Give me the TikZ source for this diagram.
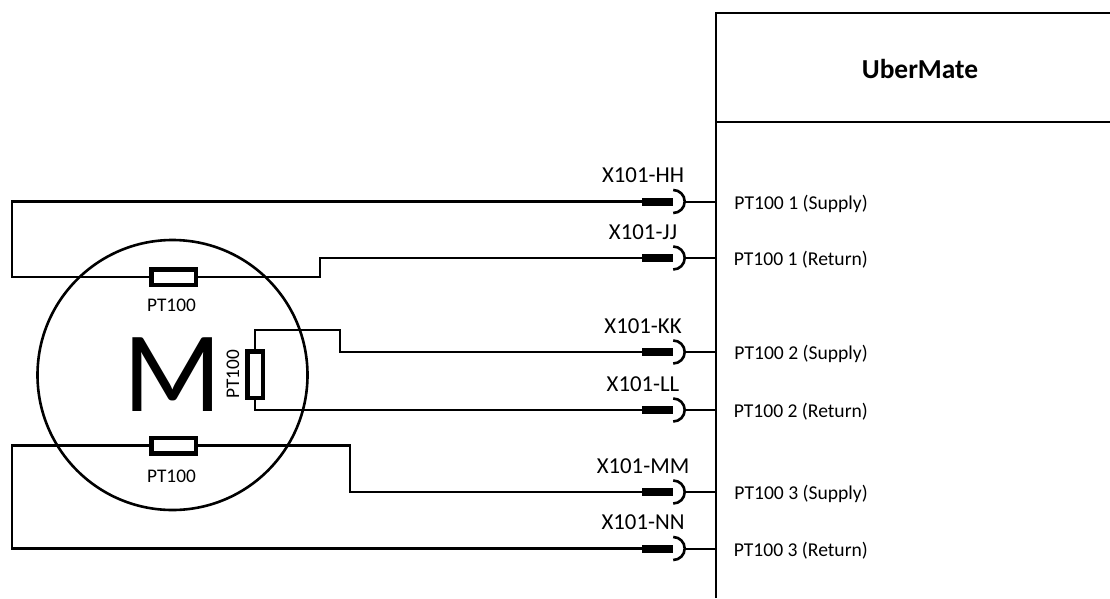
\documentclass[tikz,border=0pt]{standalone}
\usepackage{fontspec}
\setmainfont{Carlito}
\usetikzlibrary{calc}
\begin{document}
\begin{tikzpicture}[x=1pt,y=-1pt,
  wire/.style={line width=2.4pt, line join=miter},
  resbox/.style={draw, fill=white, line width=4.5pt, inner sep=0pt},
  bar/.style={fill=black, minimum width=31pt, minimum height=8pt, inner sep=0pt},
  plug/.style={line width=2.6pt},
  tail/.style={line width=2pt},
  conlabel/.style={font=\fontsize{22.8}{22.8}\selectfont, anchor=base, inner sep=0pt},
  sidelabel/.style={font=\fontsize{19.6}{19.6}\selectfont, anchor=base east, inner sep=0pt},
  reslabel/.style={font=\fontsize{19.3}{19.3}\selectfont, anchor=base, inner sep=0pt},
  boxline/.style={line width=2pt}
]
\useasboundingbox (0,0) rectangle (1110,598);

% UberMate box
\draw[boxline] (716,598) -- (716,13) -- (1110,13);
\draw[boxline] (716,122) -- (1110,122);
\node[font=\fontsize{27.4}{27.4}\selectfont\bfseries, anchor=base, inner sep=0pt] (uber) at (920,78.3) {UberMate};

% motor
\node[circle, draw, line width=2.6pt, minimum size=270pt, inner sep=0pt] (motor) at (172.5,375) {};
\node[font=\fontsize{115}{115}\selectfont, inner sep=0pt] (mlabel) at (173,375) {M};

% resistors
\node[resbox, minimum width=44.5pt, minimum height=15.5pt] (r1) at (173.5,277) {};
\node[resbox, minimum width=15.5pt, minimum height=46.5pt] (r2) at (255,374.5) {};
\node[resbox, minimum width=44.5pt, minimum height=15.5pt] (r3) at (173.5,445.5) {};
\node[reslabel] (l1) at (171.5,311.7) {PT100};
\node[reslabel, rotate=90] (l2) at (239,374) {PT100};
\node[reslabel] (l3) at (171.5,482.7) {PT100};

% connectors
\foreach \n/\yy/\lab/\side in {HH/201.5/X101-HH/PT100 1 (Supply),
                               JJ/258/X101-JJ/PT100 1 (Return),
                               KK/352/X101-KK/PT100 2 (Supply),
                               LL/410/X101-LL/PT100 2 (Return),
                               MM/492/X101-MM/PT100 3 (Supply),
                               NN/548.5/X101-NN/PT100 3 (Return)}{
  \node[bar] (c\n) at (657.5,\yy) {};
  \draw[plug] (c\n.east) ++(0,11.5) arc[start angle=90, end angle=-90, radius=11.5];
  \coordinate (t\n) at (716,\yy);
  \draw[tail] ($(c\n.east)+(11.5,0)$) -- (t\n);
  \node[conlabel] (x\n) at (643,\yy-18.8) {\lab};
  \node[sidelabel] (s\n) at (868,\yy+7.5) {\side};
}

% wires
\draw[wire] (cHH.west) -| (12,277) -- (r1.west);
\draw[wire] (r1.east) -- (320,277) |- (cJJ.west);
\draw[wire] (r2.north) |- (340,330) |- (cKK.west);
\draw[wire] (r2.south) |- (cLL.west);
\draw[wire] (r3.east) -- (350,445.5) |- (cMM.west);
\draw[wire] (r3.west) -| (12,548.5) -- (cNN.west);
\end{tikzpicture}
\end{document}
